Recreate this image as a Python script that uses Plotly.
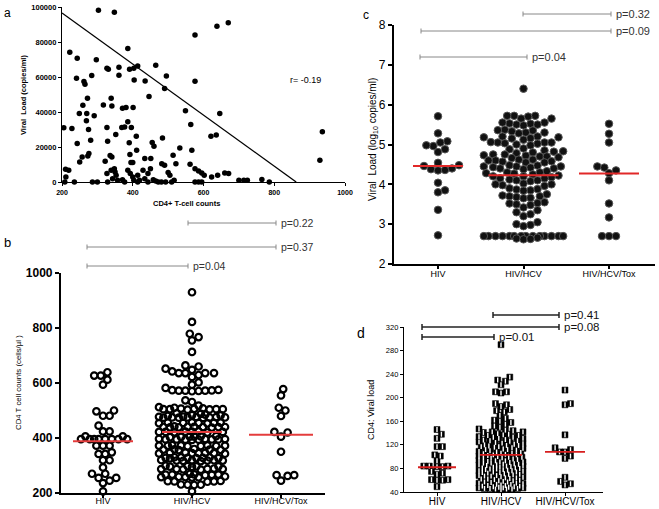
import plotly.graph_objects as go

# ---------------- data ----------------
# Panel a: CD4 count vs viral load
cd4_a = [303, 348, 576, 638, 670, 386, 222, 243, 297, 327, 331, 361, 391, 403, 414, 465,
         284, 241, 361, 404, 435, 495, 576, 490, 262, 265, 272, 339, 446, 259, 317, 341,
         371, 381, 401, 249, 270, 291, 549, 646, 269, 386, 275, 228, 205, 327, 369, 377,
         396, 564, 281, 243, 329, 352, 410, 390, 455, 460, 484, 533, 567, 621, 636, 936,
         929, 276, 273, 257, 250, 322, 336, 341, 392, 395, 400, 411, 434, 451, 482, 490,
         514, 522, 562, 210, 219, 211, 208, 235, 286, 300, 327, 339, 348, 350, 353, 343,
         357, 371, 386, 393, 400, 403, 414, 419, 429, 434, 443, 450, 458, 465, 472, 481,
         493, 500, 505, 510, 517, 329, 377, 414, 443, 576, 586, 595, 576, 586, 595, 602,
         623, 640, 660, 671, 700, 724, 765, 786, 714]
vl_a = [98200, 97000, 84000, 89000, 91000, 76300, 74200, 70700, 69800, 65000, 64400, 65600, 64400, 65000, 66300, 66700,
        60800, 59300, 61000, 58300, 57700, 60600, 57600, 53500, 57400, 55800, 47800, 47800, 48800, 43800, 44000, 43400,
        42100, 42600, 42600, 39200, 39200, 37900, 40700, 39200, 35000, 34400, 30000, 30600, 31000, 31200, 31200, 31500,
        31200, 32900, 23900, 22000, 23300, 27200, 26200, 22400, 22600, 20500, 25200, 19500, 18200, 26200, 26800, 28700,
        12400, 16300, 14900, 14300, 11500, 11900, 15100, 14300, 15700, 11100, 11100, 18200, 13400, 13400, 10500, 9600,
        15300, 10500, 10100, 7300, 6700, 2900, 0, 0, 0, 0, 4800, 6700, 7600, 5700, 3800, 1900,
        1000, 1300, 6700, 4800, 2900, 1000, 3800, 1000, 6700, 1900, 4800, 7600, 1300, 600, 0, 0,
        0, 5400, 3800, 0, 1000, 0, 0, 0, 0, 0, 0, 0, 7600, 6300, 5200, 3800,
        2900, 3800, 5200, 4800, 1000, 1000, 1500, 0, 1000]
fit_x = [200, 862]
fit_y = [96600, 0]
r_text = "r= -0.19"
a_xticks = [200, 400, 600, 800, 1000]
a_xticklabels = ["200", "400", "600", "800", "1000"]
a_yticks = [0, 20000, 40000, 60000, 80000, 100000]
a_yticklabels = ["0", "20000", "40000", "60000", "80000", "100000"]

groups = ["HIV", "HIV/HCV", "HIV/HCV/Tox"]

# Panel b: CD4 T cell counts
cd4_hiv = [639, 612, 627, 627, 594, 500, 481, 481, 497, 445, 424, 424, 406, 406, 396, 396, 396, 396,
           396, 396, 396, 396, 372, 372, 372, 348, 342, 342, 319, 319, 293, 270, 270, 255, 255, 245, 236, 206]
cd4_hcv = [930, 822, 779, 767, 755, 713, 664, 660, 652, 648, 642, 636, 636, 629, 636, 636, 622, 602, 594,
           575, 572, 572, 573, 571, 572, 574, 570, 582, 537, 531,
           510, 505, 506, 505, 504, 505, 507, 505, 503, 508, 518, 512,
           490, 488, 485, 482, 483, 480, 478,
           475, 476, 474, 475, 473, 475, 477, 475, 474, 476,
           455, 456, 454, 455, 457, 453, 455, 456,
           440, 441, 439, 440, 442, 438, 440, 441, 439, 440,
           422, 423, 421, 422, 424, 420, 422, 423,
           405, 406, 404, 405, 407, 403,
           395, 396, 394, 395, 397, 393, 395, 396, 394, 395,
           372, 373, 371, 372, 374, 370, 372, 373, 371,
           358, 359, 357, 358, 360, 356,
           345, 346, 344, 345, 347, 343, 345, 346,
           328, 329, 327, 328, 330, 326, 328, 329, 327,
           318, 319, 317, 318, 320, 316, 318, 319,
           297, 298, 296, 297, 299, 295,
           287, 288, 286, 287, 289, 285, 287,
           267, 268, 266, 267, 269, 265, 267,
           258, 259, 257, 258, 260, 256,
           242, 243, 241, 242, 244,
           230, 231, 229, 230, 206]
cd4_tox = [578, 555, 510, 500, 480, 422, 420, 405, 350, 265, 265, 262, 245]
means_b = [388, 422, 412]
p_b = ["p=0.22", "p=0.37", "p=0.04"]
b_yticks = [200, 400, 600, 800, 1000]

# Panel c: viral load log10
vl_hiv = [5.71, 5.28, 5.08, 5.05, 4.96, 4.98, 4.88, 4.81, 4.54, 4.46, 4.48, 4.38, 4.35, 4.36, 4.40,
          4.04, 3.80, 3.85, 3.36, 2.72]
vl_hcv = [6.40,
          5.72, 5.72, 5.70, 5.72, 5.65, 5.65,
          5.55, 5.53, 5.55, 5.52, 5.50, 5.48, 5.50,
          5.37, 5.35, 5.36, 5.30, 5.30, 5.33, 5.28,
          5.20, 5.18, 5.20, 5.15, 5.16, 5.18, 5.12,
          5.05, 5.05, 5.03, 5.02, 5.06, 5.00, 4.98, 5.05,
          4.90, 4.88, 4.85, 4.83, 4.80, 4.82, 4.78,
          4.75, 4.72, 4.70, 4.70, 4.73, 4.68, 4.66, 4.75,
          4.62, 4.60, 4.58, 4.60, 4.55, 4.57, 4.62, 4.55,
          4.48, 4.45, 4.45, 4.43, 4.47, 4.42, 4.40, 4.40, 4.45, 4.38,
          4.33, 4.30, 4.28, 4.30, 4.25, 4.27, 4.22, 4.20, 4.20, 4.18,
          4.15, 4.12, 4.15, 4.10, 4.08, 4.10,
          4.02, 4.00, 3.98, 4.00, 3.96,
          3.90, 3.88, 3.87, 3.85, 3.84,
          3.75, 3.72, 3.70, 3.68, 3.70, 3.65, 3.66,
          3.55, 3.52, 3.53, 3.50, 3.48,
          3.42, 3.35, 3.30, 3.25, 3.20,
          3.05, 3.00, 2.98, 2.95,
          2.70, 2.70, 2.70, 2.70, 2.70, 2.70, 2.70, 2.70, 2.70, 2.70, 2.70, 2.70, 2.70, 2.70,
          2.66, 2.64, 2.62, 2.63]
vl_tox = [5.52, 5.27, 5.05, 4.45, 4.42, 4.35, 4.28, 4.10, 3.52, 3.17, 2.70, 2.70, 2.70]
means_c = [4.46, 4.23, 4.27]
p_c = ["p=0.32", "p=0.09", "p=0.04"]
c_yticks = [2, 3, 4, 5, 6, 7, 8]

# Panel d: CD4 : viral load ratio
r_hiv = [146, 138, 131, 117, 117, 103, 101, 93, 84, 84, 83, 83, 84, 75, 72, 70, 61, 60, 60, 61, 49]
r_hcv = [290, 235, 230, 228, 222, 210, 210, 208, 190, 188, 185, 180, 178, 176,
         170, 165, 162, 160, 158, 155, 152, 150,
         145, 147, 142, 144, 139,
         141, 136, 138, 133, 142, 137,
         131, 136, 127, 133, 129, 134,
         126, 131, 122, 128, 124, 119, 127, 121,
         123, 117, 125, 114, 120, 118, 116, 112,
         115, 111, 119, 107, 113, 109, 117, 105,
         110, 103, 112, 106, 101, 108, 104, 99,
         102, 97, 106, 95, 100, 93, 98, 103,
         96, 91, 99, 89, 94, 92, 97, 87, 90,
         93, 86, 88, 84, 91, 82, 89, 85, 87,
         86, 81, 84, 79, 83, 77, 80, 82, 78,
         81, 75, 79, 73, 76, 72, 78, 74, 70,
         76, 69, 73, 67, 71, 66, 74, 68, 64,
         70, 63, 68, 61, 65, 59, 67, 62,
         64, 57, 62, 55, 60, 58, 56, 53,
         59, 52, 57, 50, 54, 51, 55, 49,
         53, 47, 51, 46, 48, 45, 50,
         49, 44, 47, 46, 45, 48,
         46, 45, 47]
r_tox = [213, 190, 188, 137, 115, 112, 108, 108, 101, 97, 65, 58, 54, 52]
means_d = [82, 103, 108]
p_d = ["p=0.41", "p=0.08", "p=0.01"]
d_yticks = [40, 80, 120, 160, 200, 240, 280, 320]

# ---------------- layout helpers ----------------
W, H = 659, 509
FONT = "Arial, Liberation Sans, sans-serif"


def fx(p):
    return p / W


def fy(p):
    return 1 - p / H


def swarm(vals, center, xs_px, ys_px, d, maxw, frac=3.0):
    """Greedy beeswarm in pixel space, limited to +-maxw pixels."""
    placed = []
    out = [0.0] * len(vals)
    step = d / frac
    nmax = int(maxw / step)
    cands = [0.0]
    for k in range(1, nmax + 1):
        cands += [k * step, -k * step]
    for i in sorted(range(len(vals)), key=lambda k: vals[k]):
        y = vals[i] * ys_px
        near = [(px, py) for px, py in placed if abs(py - y) < d]
        found = None
        best, bestd = 0.0, -1.0
        for s in cands:
            md = min([((s - px) ** 2 + (y - py) ** 2) for px, py in near], default=1e9)
            if md >= d * d:
                found = s
                break
            if md > bestd:
                best, bestd = s, md
        if found is None:
            found = best
        placed.append((found, y))
        out[i] = center + found / xs_px
    return out


# panel geometry (pixels)
A = dict(x0=62, x1=345, y0=182, y1=7)
B = dict(x0=61, x1=325, y0=493, y1=273)
C = dict(x0=394, x1=655, y0=264, y1=25)
D = dict(x0=404, x1=603, y0=492, y1=327)
b_c0, b_sp = 103, 89
c_c0, c_sp = 438, 85.5
d_c0, d_sp = 437, 64


def cat_range(P, c0, sp):
    return [(P["x0"] - c0) / sp, (P["x1"] - c0) / sp]


def cx(p, c0, sp):
    return (p - c0) / sp


fig = go.Figure()

# ---- panel a ----
fig.add_trace(go.Scatter(x=cd4_a, y=vl_a, mode="markers", xaxis="x", yaxis="y",
                         marker=dict(color="black", size=5.5), cliponaxis=False, showlegend=False))
fig.add_trace(go.Scatter(x=fit_x, y=fit_y, mode="lines", xaxis="x", yaxis="y",
                         line=dict(color="black", width=1.3), cliponaxis=False, showlegend=False))

# ---- panel b ----
b_ys = (B["y0"] - B["y1"]) / 800.0
for i, (vals, mw) in enumerate(zip([cd4_hiv, cd4_hcv, cd4_tox], [26, 33, 20])):
    xs = swarm(vals, i, b_sp, b_ys, 6.6, mw)
    fig.add_trace(go.Scatter(x=xs, y=vals, mode="markers", xaxis="x2", yaxis="y2",
                             marker=dict(symbol="circle-open", size=6.5, color="black",
                                         line=dict(width=2.2, color="black")),
                             cliponaxis=False, showlegend=False))
for i, (m, hw) in enumerate(zip(means_b, [30, 30, 32])):
    hw = hw / b_sp
    fig.add_trace(go.Scatter(x=[i - hw, i + hw], y=[m, m], mode="lines", xaxis="x2", yaxis="y2",
                             line=dict(color="rgb(228,60,60)", width=2), showlegend=False))

# ---- panel c ----
c_ys = (C["y0"] - C["y1"]) / 6.0
for i, (vals, mw) in enumerate(zip([vl_hiv, vl_hcv, vl_tox], [24, 40, 16])):
    xs = swarm(vals, i, c_sp, c_ys, 7.0, mw)
    fig.add_trace(go.Scatter(x=xs, y=vals, mode="markers", xaxis="x3", yaxis="y3",
                             marker=dict(symbol="circle", size=7.5, color="#111",
                                         line=dict(width=1, color="#555")),
                             cliponaxis=False, showlegend=False))
for i, (m, hw) in enumerate(zip(means_c, [25, 35, 30])):
    hw = hw / c_sp
    fig.add_trace(go.Scatter(x=[i - hw, i + hw], y=[m, m], mode="lines", xaxis="x3", yaxis="y3",
                             line=dict(color="rgb(225,40,40)", width=2), showlegend=False))

# ---- panel d ----
d_ys = (D["y0"] - D["y1"]) / 280.0
for i, (vals, mw) in enumerate(zip([r_hiv, r_hcv, r_tox], [17, 22, 14])):
    xs = swarm(vals, i, d_sp, d_ys, 5.5, mw, frac=5.0)
    fig.add_trace(go.Scatter(x=xs, y=vals, mode="markers", xaxis="x4", yaxis="y4",
                             marker=dict(symbol="square", size=6, color="black",
                                         line=dict(width=0.5, color="black")),
                             cliponaxis=False, showlegend=False))
    fig.add_trace(go.Scatter(x=xs, y=vals, mode="markers", xaxis="x4", yaxis="y4",
                             marker=dict(symbol="line-ns", size=3.5,
                                         line=dict(width=1.4, color="white")),
                             cliponaxis=False, showlegend=False, hoverinfo="skip"))
for i, (m, hw) in enumerate(zip(means_d, [19, 21, 20])):
    hw = hw / d_sp
    fig.add_trace(go.Scatter(x=[i - hw, i + hw], y=[m, m], mode="lines", xaxis="x4", yaxis="y4",
                             line=dict(color="rgb(215,30,30)", width=1.8), showlegend=False))

# ---------------- axes ----------------
common = dict(showgrid=False, zeroline=False, showline=True, linecolor="black",
              automargin=False, tickcolor="black")
fig.update_layout(
    xaxis=dict(domain=[fx(A["x0"]), fx(A["x1"])], range=[200, 1000], anchor="y",
               tickvals=a_xticks, ticktext=a_xticklabels, ticks="outside", ticklen=3, linewidth=1.2,
               tickfont=dict(size=7, family=FONT, weight="bold", color="black"), **common),
    yaxis=dict(domain=[fy(A["y0"]), fy(A["y1"])], range=[0, 100000], anchor="x",
               tickvals=a_yticks, ticktext=a_yticklabels, ticks="outside", ticklen=3,
               linewidth=1.2, tickfont=dict(size=7.5, family=FONT, weight="bold", color="black"), **common),
    xaxis2=dict(domain=[fx(B["x0"]), fx(B["x1"])], range=cat_range(B, b_c0, b_sp), anchor="y2",
                tickvals=[0, 1, 2], ticktext=groups, ticks="outside", ticklen=3, tickwidth=1.5,
                ticklabelstandoff=-5,
                linewidth=2.2, tickfont=dict(size=9, family=FONT, color="black"), **common),
    yaxis2=dict(domain=[fy(B["y0"]), fy(B["y1"])], range=[200, 1000], anchor="x2",
                tickvals=b_yticks, ticktext=[str(v) for v in b_yticks],
                ticks="outside", ticklen=4, tickwidth=2,
                linewidth=2.2, tickfont=dict(size=12, family=FONT, weight="bold", color="black"), **common),
    xaxis3=dict(domain=[fx(C["x0"]), fx(C["x1"])], range=cat_range(C, c_c0, c_sp), anchor="y3",
                tickvals=[0, 1, 2], ticktext=groups, ticks="outside", ticklen=3, tickwidth=1.5,
                ticklabelstandoff=-3,
                linewidth=2.2, tickfont=dict(size=9, family=FONT, color="black"), **common),
    yaxis3=dict(domain=[fy(C["y0"]), fy(C["y1"])], range=[2, 8], anchor="x3",
                tickvals=c_yticks, ticktext=[str(v) for v in c_yticks],
                ticks="outside", ticklen=4, tickwidth=2,
                linewidth=2.2, tickfont=dict(size=12, family=FONT, color="black"), **common),
    xaxis4=dict(domain=[fx(D["x0"]), fx(D["x1"])], range=cat_range(D, d_c0, d_sp), anchor="y4",
                tickvals=[0, 1, 2], ticktext=groups, ticks="outside", ticklen=3, tickwidth=1.2,
                ticklabelstandoff=-3,
                linewidth=1.3, tickfont=dict(size=10, family=FONT, color="black"), **common),
    yaxis4=dict(domain=[fy(D["y0"]), fy(D["y1"])], range=[40, 320], anchor="x4",
                tickvals=d_yticks, ticktext=[str(v) for v in d_yticks],
                ticks="outside", ticklen=3,
                linewidth=1.3, tickfont=dict(size=7.5, family=FONT, color="black"), **common),
)

# ---------------- brackets & annotations ----------------
shapes = []
annos = []


def bracket(xref, xa, xb, py, text, color, width, cap, tsize, tcolor):
    yv = fy(py)
    capf = cap / H
    shapes.append(dict(type="line", xref=xref, yref="paper", x0=xa, x1=xb, y0=yv, y1=yv,
                       line=dict(color=color, width=width)))
    for xx in (xa, xb):
        shapes.append(dict(type="line", xref=xref, yref="paper", x0=xx, x1=xx,
                           y0=yv - capf, y1=yv + capf, line=dict(color=color, width=width)))
    annos.append(dict(xref=xref, yref="paper", x=xb, y=yv, text=text, showarrow=False,
                      xanchor="left", yanchor="middle", xshift=3,
                      font=dict(size=tsize, color=tcolor, family=FONT)))


bracket("x2", cx(188, b_c0, b_sp), cx(276, b_c0, b_sp), 223, p_b[0], "#888", 1, 2.5, 10.5, "#333")
bracket("x2", cx(87, b_c0, b_sp), cx(276, b_c0, b_sp), 247, p_b[1], "#888", 1, 2.5, 10.5, "#333")
bracket("x2", cx(87, b_c0, b_sp), cx(188, b_c0, b_sp), 266, p_b[2], "#888", 1, 2.5, 10.5, "#333")
bracket("x3", cx(523, c_c0, c_sp), cx(611, c_c0, c_sp), 14, p_c[0], "#888", 1, 2.5, 11, "#333")
bracket("x3", cx(421, c_c0, c_sp), cx(611, c_c0, c_sp), 31, p_c[1], "#888", 1, 2.5, 11, "#333")
bracket("x3", cx(420, c_c0, c_sp), cx(527, c_c0, c_sp), 57, p_c[2], "#888", 1, 2.5, 11, "#333")
bracket("x4", cx(493, d_c0, d_sp), cx(559, d_c0, d_sp), 315, p_d[0], "#222", 1.5, 3, 11.5, "#111")
bracket("x4", cx(422, d_c0, d_sp), cx(559, d_c0, d_sp), 327, p_d[1], "#222", 1.5, 3, 11.5, "#111")
bracket("x4", cx(422, d_c0, d_sp), cx(494, d_c0, d_sp), 337, p_d[2], "#222", 1.5, 3, 11.5, "#111")


def text(px, py, s, size, angle=0, weight="normal", anchor="center", color="black"):
    annos.append(dict(xref="paper", yref="paper", x=fx(px), y=fy(py), text=s, showarrow=False,
                      textangle=angle, xanchor=anchor, yanchor="middle",
                      font=dict(size=size, family=FONT, weight=weight, color=color)))


text(7, 13, "a", 12)
text(7, 243, "b", 13)
text(366, 15, "c", 12)
text(361, 333, "d", 14)
text(305, 80, r_text, 9)
text(24, 95, "Viral  Load (copies/ml)", 7.5, angle=-90, weight="bold")
text(186, 203, "CD4+ T-cell counts", 7.5, weight="bold")
text(18, 383, "CD4 T cell counts (cells/µl )", 7.8, angle=-90)
text(373, 140, "Viral  Load (log<sub>10</sub> copies/ml)", 10, angle=-90)
text(371, 410, "CD4: Viral load", 9, angle=-90)

fig.update_layout(
    width=W, height=H, margin=dict(l=0, r=0, t=0, b=0, autoexpand=False),
    paper_bgcolor="white", plot_bgcolor="white",
    shapes=shapes, annotations=annos, showlegend=False,
    font=dict(family=FONT, color="black"),
)

fig.write_html("out.html", config={"displayModeBar": False},
               post_script="document.body.style.margin='0';document.body.style.padding='0';")
